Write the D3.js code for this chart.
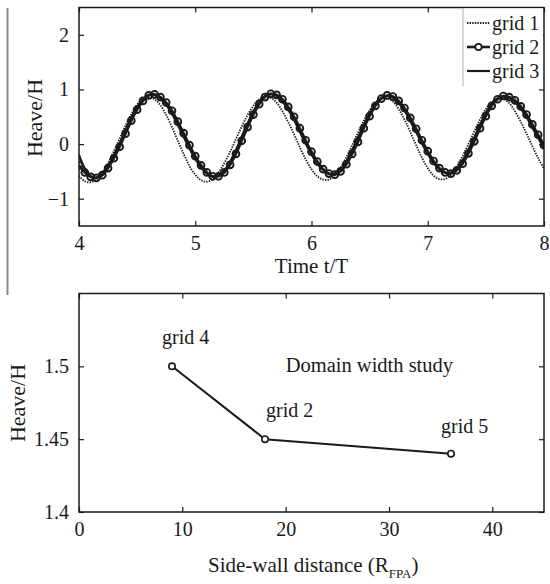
<!DOCTYPE html>
<html>
<head>
<meta charset="utf-8">
<script src="https://cdn.jsdelivr.net/npm/d3@7"></script>
<style>
  body { margin: 0; background: #fff; }
  svg { display: block; font-family: "Liberation Serif", "Times New Roman", serif; }
</style>
</head>
<body>
<svg id="chart" width="550" height="584"></svg>
<script>
// ---- top panel: heave time series, t/T from 4 to 8 ----
const timeSteps = [
  4.00, 4.05, 4.10, 4.15, 4.20, 4.25, 4.30, 4.35, 4.40, 4.45, 4.50, 4.55, 4.60, 4.65, 4.70, 4.75, 4.80, 4.85, 4.90, 4.95,
  5.00, 5.05, 5.10, 5.15, 5.20, 5.25, 5.30, 5.35, 5.40, 5.45, 5.50, 5.55, 5.60, 5.65, 5.70, 5.75, 5.80, 5.85, 5.90, 5.95,
  6.00, 6.05, 6.10, 6.15, 6.20, 6.25, 6.30, 6.35, 6.40, 6.45, 6.50, 6.55, 6.60, 6.65, 6.70, 6.75, 6.80, 6.85, 6.90, 6.95,
  7.00, 7.05, 7.10, 7.15, 7.20, 7.25, 7.30, 7.35, 7.40, 7.45, 7.50, 7.55, 7.60, 7.65, 7.70, 7.75, 7.80, 7.85, 7.90, 7.95,
  8.00
];
const grid1 = [
  -0.58, -0.68, -0.70, -0.65, -0.53, -0.35, -0.13, 0.10, 0.34, 0.55, 0.72, 0.82, 0.86, 0.82, 0.71, 0.53, 0.31, 0.06, -0.18, -0.40,
  -0.56, -0.66, -0.69, -0.64, -0.52, -0.35, -0.14, 0.09, 0.32, 0.53, 0.70, 0.82, 0.87, 0.85, 0.76, 0.60, 0.40, 0.18, -0.06, -0.28,
  -0.46, -0.59, -0.65, -0.65, -0.57, -0.43, -0.24, -0.02, 0.21, 0.43, 0.62, 0.76, 0.84, 0.84, 0.78, 0.64, 0.45, 0.22, -0.02, -0.25,
  -0.44, -0.58, -0.64, -0.64, -0.56, -0.41, -0.22, 0.00, 0.23, 0.45, 0.64, 0.77, 0.83, 0.83, 0.75, 0.60, 0.41, 0.19, -0.04, -0.26,
  -0.45
];
const grid2 = [
  -0.39, -0.52, -0.60, -0.62, -0.57, -0.44, -0.26, -0.05, 0.19, 0.43, 0.63, 0.79, 0.89, 0.91, 0.86, 0.76, 0.61, 0.41, 0.20, -0.02,
  -0.22, -0.39, -0.52, -0.59, -0.59, -0.52, -0.38, -0.18, 0.06, 0.31, 0.54, 0.73, 0.86, 0.92, 0.90, 0.82, 0.68, 0.50, 0.29, 0.07,
  -0.14, -0.32, -0.46, -0.54, -0.56, -0.50, -0.37, -0.18, 0.04, 0.29, 0.51, 0.70, 0.83, 0.89, 0.87, 0.79, 0.66, 0.48, 0.28, 0.07,
  -0.13, -0.31, -0.44, -0.52, -0.54, -0.48, -0.36, -0.17, 0.05, 0.29, 0.51, 0.70, 0.82, 0.88, 0.86, 0.80, 0.69, 0.54, 0.36, 0.17,
  -0.02
];
const grid3 = [
  -0.20, -0.45, -0.59, -0.61, -0.53, -0.39, -0.20, 0.02, 0.26, 0.49, 0.68, 0.82, 0.90, 0.90, 0.83, 0.72, 0.55, 0.35, 0.13, -0.08,
  -0.27, -0.43, -0.54, -0.60, -0.57, -0.48, -0.32, -0.11, 0.14, 0.38, 0.60, 0.77, 0.88, 0.91, 0.88, 0.78, 0.63, 0.44, 0.22, 0.01,
  -0.19, -0.36, -0.48, -0.55, -0.54, -0.46, -0.31, -0.11, 0.12, 0.36, 0.57, 0.74, 0.85, 0.88, 0.85, 0.75, 0.61, 0.42, 0.22, 0.01,
  -0.18, -0.35, -0.46, -0.53, -0.52, -0.44, -0.30, -0.10, 0.12, 0.36, 0.57, 0.74, 0.84, 0.87, 0.84, 0.77, 0.65, 0.49, 0.30, 0.11,
  -0.08
];
const legendNames = ["grid 1", "grid 2", "grid 3"];
const timeTicks = [4, 5, 6, 7, 8];
const heaveTicks = [-1, 0, 1, 2];

// ---- bottom panel: domain width study ----
const wallDistance = [9, 18, 36];
const wallHeave = [1.5, 1.45, 1.44];
const wallLabels = ["grid 4", "grid 2", "grid 5"];
const distTicks = [0, 10, 20, 30, 40];
const wallHeaveTicks = [1.4, 1.45, 1.5];

const svg = d3.select("#chart");
const ink = "#1a1a1a";
const serif = '"Liberation Serif", "Times New Roman", serif';

// outer gray rule on the left of the top panel
svg.append("line")
  .attr("x1", 7.5).attr("x2", 7.5).attr("y1", 8).attr("y2", 295)
  .attr("stroke", "#8a8a8a").attr("stroke-width", 2);

function frame(g, x, y, xTicks, yTicks, yFormat) {
  const [x0, x1] = x.range();
  const [y0, y1] = y.range();
  g.append("g").attr("transform", "translate(0," + y0 + ")")
    .call(d3.axisBottom(x).tickValues(xTicks).tickSizeInner(-5).tickSizeOuter(0).tickPadding(10).tickFormat(d3.format("d")));
  g.append("g").attr("transform", "translate(0," + y1 + ")")
    .call(d3.axisTop(x).tickValues(xTicks).tickSizeInner(-5).tickSizeOuter(0).tickFormat(""));
  g.append("g").attr("transform", "translate(" + x0 + ",0)")
    .call(d3.axisLeft(y).tickValues(yTicks).tickSizeInner(-5).tickSizeOuter(0).tickPadding(10).tickFormat(yFormat));
  g.append("g").attr("transform", "translate(" + x1 + ",0)")
    .call(d3.axisRight(y).tickValues(yTicks).tickSizeInner(-5).tickSizeOuter(0).tickFormat(""));
  g.selectAll(".domain").remove();
  g.selectAll("g").attr("font-family", serif);
  g.selectAll(".tick line").attr("stroke", ink).attr("stroke-width", 1.2);
  g.selectAll(".tick text").attr("fill", ink).style("font-size", "20px").style("font-family", serif);
  g.append("rect")
    .attr("x", x0).attr("y", y1).attr("width", x1 - x0).attr("height", y0 - y1)
    .attr("fill", "none").attr("stroke", ink).attr("stroke-width", 1.5);
}

// ================= top panel =================
const xTime = d3.scaleLinear().domain([4, 8]).range([79, 544]);
const yHeave = d3.scaleLinear().domain([-1.5, 2.5]).range([226, 7.5]);

const topPanel = svg.append("g");
topPanel.append("clipPath").attr("id", "clipTop").append("rect")
  .attr("x", 79).attr("y", 7.5).attr("width", 465).attr("height", 218.5);

const seriesLine = d3.line()
  .x(d => xTime(d[0]))
  .y(d => yHeave(d[1]))
  .curve(d3.curveCatmullRom);

const s1 = timeSteps.map((t, i) => [t, grid1[i]]);
const s2 = timeSteps.map((t, i) => [t, grid2[i]]);
const s3 = timeSteps.map((t, i) => [t, grid3[i]]);

const plotTop = topPanel.append("g").attr("clip-path", "url(#clipTop)");
plotTop.append("path").datum(s1).attr("d", seriesLine)
  .attr("fill", "none").attr("stroke", ink).attr("stroke-width", 1.8).attr("stroke-dasharray", "1.4,1.2");
plotTop.append("path").datum(s2).attr("d", seriesLine)
  .attr("fill", "none").attr("stroke", ink).attr("stroke-width", 2.6);
plotTop.selectAll("circle.m2").data(s2).join("circle").attr("class", "m2")
  .attr("cx", d => xTime(d[0])).attr("cy", d => yHeave(d[1])).attr("r", 3.4)
  .attr("fill", "none").attr("stroke", ink).attr("stroke-width", 1.9);
plotTop.append("path").datum(s3).attr("d", seriesLine)
  .attr("fill", "none").attr("stroke", ink).attr("stroke-width", 2.2);

frame(topPanel, xTime, yHeave, timeTicks, heaveTicks, d3.format("d"));

// legend
const leg = topPanel.append("g");
leg.append("rect").attr("x", 463).attr("y", 8.5).attr("width", 80).attr("height", 77.5).attr("fill", "#fff");
leg.append("line").attr("x1", 463).attr("x2", 463).attr("y1", 8).attr("y2", 86)
  .attr("stroke", "#b0b0b0").attr("stroke-width", 1);
legendNames.forEach((name, i) => {
  const ly = 23 + i * 24;
  const l = leg.append("line").attr("x1", 467).attr("x2", 490).attr("y1", ly).attr("y2", ly)
    .attr("stroke", ink);
  if (i === 0) l.attr("stroke-width", 1.8).attr("stroke-dasharray", "1.4,1.2");
  if (i === 1) {
    l.attr("stroke-width", 2.6);
    leg.append("circle").attr("cx", 478.5).attr("cy", ly).attr("r", 3.2)
      .attr("fill", "#fff").attr("stroke", ink).attr("stroke-width", 1.8);
  }
  if (i === 2) l.attr("stroke-width", 2.2);
  leg.append("text").attr("x", 492).attr("y", ly + 7).attr("fill", ink)
    .style("font-size", "20px").text(name);
});

topPanel.append("text").attr("x", 311.5).attr("y", 273).attr("text-anchor", "middle")
  .attr("fill", ink).style("font-size", "21px").text("Time t/T");
topPanel.append("text").attr("transform", "translate(42,118) rotate(-90)").attr("text-anchor", "middle")
  .attr("fill", ink).style("font-size", "22px").text("Heave/H");

// ================= bottom panel =================
const xDist = d3.scaleLinear().domain([0, 45]).range([79, 544]);
const yWall = d3.scaleLinear().domain([1.4, 1.55]).range([512, 293.5]);

const bottomPanel = svg.append("g");
frame(bottomPanel, xDist, yWall, distTicks, wallHeaveTicks, d => d3.format("")(+d.toFixed(2)));

const pts = wallDistance.map((d, i) => [d, wallHeave[i]]);
bottomPanel.append("path").datum(pts)
  .attr("d", d3.line().x(d => xDist(d[0])).y(d => yWall(d[1])))
  .attr("fill", "none").attr("stroke", ink).attr("stroke-width", 2);
bottomPanel.selectAll("circle.pt").data(pts).join("circle").attr("class", "pt")
  .attr("cx", d => xDist(d[0])).attr("cy", d => yWall(d[1])).attr("r", 3.2)
  .attr("fill", "#fff").attr("stroke", ink).attr("stroke-width", 1.6);

// point labels, offset above-left of each marker
const labelShift = [[-10, -22], [1, -22], [-10, -21]];
bottomPanel.selectAll("text.pl").data(pts).join("text").attr("class", "pl")
  .attr("x", (d, i) => xDist(d[0]) + labelShift[i][0])
  .attr("y", (d, i) => yWall(d[1]) + labelShift[i][1])
  .attr("fill", ink).style("font-size", "20px")
  .text((d, i) => wallLabels[i]);

bottomPanel.append("text").attr("x", xDist(20)).attr("y", yWall(1.5) + 6)
  .attr("fill", ink).style("font-size", "20.5px").text("Domain width study");

const xl = bottomPanel.append("text").attr("x", 208).attr("y", 572).attr("fill", ink).style("font-size", "21px");
xl.append("tspan").text("Side-wall distance (R");
xl.append("tspan").attr("dy", 6).style("font-size", "13px").text("FPA");
xl.append("tspan").attr("dy", -6).text(")");

bottomPanel.append("text").attr("transform", "translate(25,403) rotate(-90)").attr("text-anchor", "middle")
  .attr("fill", ink).style("font-size", "22px").text("Heave/H");
</script>
</body>
</html>
